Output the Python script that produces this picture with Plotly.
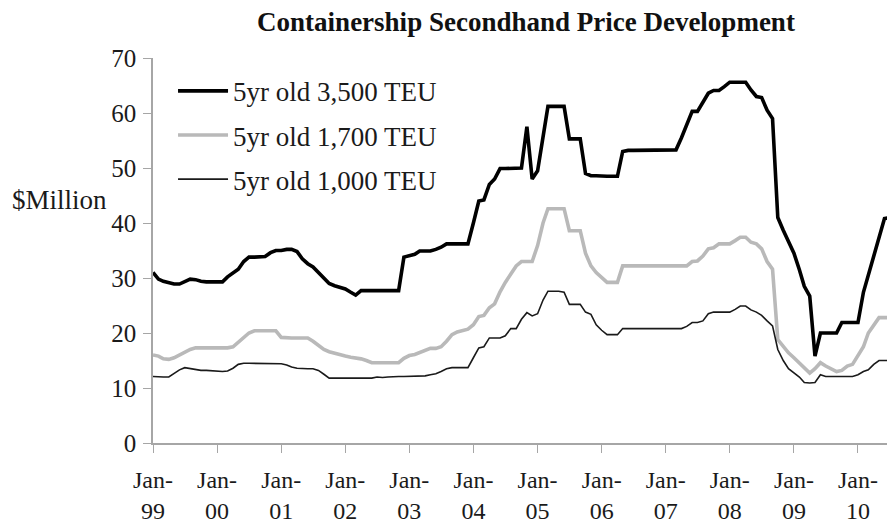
import plotly.graph_objects as go
import pandas as pd

# Monthly observations, Jan 1999 .. Aug 2010
months = pd.date_range("1999-01-01", "2010-08-01", freq="MS")

teu_3500 = [
    31.0, 29.8, 29.4, 29.2, 28.9, 28.9, 29.4, 29.8, 29.7, 29.4, 29.3, 29.3,   # 1999
    29.3, 29.3, 30.2, 31.0, 31.6, 33.0, 33.8, 33.8, 33.8, 33.9, 34.6, 35.0,   # 2000
    35.0, 35.2, 35.2, 34.8, 33.5, 32.6, 32.0, 31.0, 30.0, 29.0, 28.6, 28.3,   # 2001
    28.0, 27.4, 26.9, 27.7, 27.7, 27.7, 27.7, 27.7, 27.7, 27.7, 27.7, 33.8,   # 2002
    34.0, 34.3, 34.9, 34.9, 34.9, 35.2, 35.6, 36.2, 36.2, 36.2, 36.2, 36.2,   # 2003
    40.0, 44.0, 44.2, 47.0, 48.0, 49.9, 49.9, 49.9, 49.9, 50.0, 57.5, 48.0,   # 2004
    49.5, 55.5, 61.2, 61.2, 61.2, 61.2, 55.3, 55.3, 55.3, 49.0, 48.6, 48.6,   # 2005
    48.5, 48.5, 48.5, 48.5, 53.0, 53.2, 53.2, 53.2, 53.2, 53.2, 53.2, 53.2,   # 2006
    53.2, 53.2, 53.3, 55.5, 57.8, 60.3, 60.3, 62.0, 63.6, 64.1, 64.1, 64.8,   # 2007
    65.6, 65.6, 65.6, 65.6, 64.2, 63.0, 62.8, 60.5, 59.0, 41.0, 38.7, 36.6,   # 2008
    34.5, 31.5, 28.5, 26.7, 15.8, 20.0, 20.0, 20.0, 20.0, 21.9, 21.9, 21.9,   # 2009
    21.9, 27.4, 30.5, 33.5, 37.0, 40.8, 41.0, 41.0,                           # 2010
]

teu_1700 = [
    16.0, 15.8, 15.3, 15.2, 15.5, 16.0, 16.5, 17.0, 17.3, 17.3, 17.3, 17.3,
    17.3, 17.3, 17.3, 17.5, 18.3, 19.2, 20.0, 20.4, 20.4, 20.4, 20.4, 20.4,
    19.2, 19.1, 19.1, 19.1, 19.1, 19.1, 18.5, 17.8, 17.0, 16.6, 16.3, 16.0,
    15.8, 15.6, 15.5, 15.3, 15.0, 14.6, 14.6, 14.6, 14.6, 14.6, 14.6, 15.4,
    15.9, 16.1, 16.5, 16.8, 17.2, 17.2, 17.5, 18.5, 19.7, 20.2, 20.5, 20.7,
    21.5, 23.0, 23.2, 24.6, 25.3, 27.5, 29.2, 30.8, 32.2, 33.0, 33.0, 33.0,
    35.9, 40.0, 42.6, 42.6, 42.6, 42.6, 38.6, 38.6, 38.6, 34.5, 32.2, 31.0,
    30.0, 29.2, 29.2, 29.2, 32.2, 32.2, 32.2, 32.2, 32.2, 32.2, 32.2, 32.2,
    32.2, 32.2, 32.2, 32.2, 32.2, 33.0, 33.1, 34.0, 35.3, 35.5, 36.2, 36.2,
    36.2, 36.8, 37.4, 37.4, 36.5, 36.2, 35.3, 33.0, 31.6, 18.8, 17.5, 16.4,
    15.5, 14.6, 13.8, 12.7, 13.5, 14.6, 14.0, 13.5, 13.0, 13.2, 14.0, 14.3,
    16.0, 17.5, 20.0, 21.5, 22.8, 22.8, 22.8, 22.8,
]

teu_1000 = [
    12.1, 12.0, 12.0, 12.0, 12.6, 13.3, 13.7, 13.5, 13.3, 13.2, 13.2, 13.1,
    13.0, 13.0, 13.1, 13.6, 14.3, 14.5, 14.5, 14.5, 14.5, 14.5, 14.5, 14.4,
    14.4, 14.2, 13.8, 13.6, 13.5, 13.5, 13.5, 13.2, 12.5, 11.8, 11.8, 11.8,
    11.8, 11.8, 11.8, 11.8, 11.8, 11.8, 12.0, 11.9, 12.0, 12.1, 12.1, 12.1,
    12.1, 12.1, 12.1, 12.2, 12.4, 12.6, 13.0, 13.5, 13.7, 13.7, 13.7, 13.7,
    15.5, 17.3, 17.5, 19.1, 19.1, 19.1, 19.5, 20.8, 20.8, 22.5, 23.7, 23.1,
    23.5, 26.0, 27.6, 27.6, 27.6, 27.4, 25.2, 25.2, 25.2, 23.8, 23.4, 21.5,
    20.5, 19.7, 19.7, 19.7, 20.8, 20.8, 20.8, 20.8, 20.8, 20.8, 20.8, 20.8,
    20.8, 20.8, 20.8, 20.8, 21.2, 21.9, 21.9, 22.2, 23.5, 23.8, 23.8, 23.8,
    23.8, 24.3, 24.9, 24.9, 24.2, 23.8, 23.2, 22.2, 21.3, 17.0, 15.0, 13.5,
    12.8, 12.0, 11.0, 10.9, 11.0, 12.4, 12.1, 12.1, 12.1, 12.1, 12.1, 12.1,
    12.4, 13.0, 13.3, 14.3, 15.0, 15.0, 15.0, 15.0,
]

series_names = ["5yr old 3,500 TEU", "5yr old 1,700 TEU", "5yr old 1,000 TEU"]
tick_years = ["99", "00", "01", "02", "03", "04", "05", "06", "07", "08", "09", "10"]
tick_dates = [f"{1999 + i}-01-01" for i in range(len(tick_years))]
tick_text = [f"Jan-<br>{y}" for y in tick_years]
y_ticks = [0, 10, 20, 30, 40, 50, 60, 70]

SERIF = "Liberation Serif, Times New Roman, serif"
AXIS_GRAY = "#a6a6a6"

fig = go.Figure()
styles = [
    dict(color="#000000", width=3.6),
    dict(color="#b9b9b9", width=3.6),
    dict(color="#1a1a1a", width=1.6),
]
for i, (name, vals) in enumerate(zip(series_names, [teu_3500, teu_1700, teu_1000])):
    fig.add_trace(go.Scatter(
        x=months, y=vals, mode="lines", name=name,
        line=styles[i], legendgroup=f"g{i}", hoverinfo="skip",
    ))

# the page body adds an 8px offset; margins compensate for it
fig.update_layout(
    width=895, height=527,
    margin=dict(l=145, r=8, t=50, b=92, autoexpand=False),
    paper_bgcolor="white", plot_bgcolor="white",
    font=dict(family=SERIF, size=25, color="#1a1a1a"),
    title=dict(
        text="<b>Containership Secondhand Price Development</b>",
        x=518 / 895, xref="container", xanchor="center",
        y=1 - 14 / 527, yref="container", yanchor="middle",
        font=dict(family=SERIF, size=27, color="#111111"),
    ),
    showlegend=True,
    legend=dict(
        x=0.027, y=0.977, xanchor="left", yanchor="top",
        bgcolor="rgba(0,0,0,0)", borderwidth=0,
        font=dict(family=SERIF, size=27, color="#1a1a1a"),
        tracegroupgap=6, itemwidth=50, traceorder="grouped",
    ),
    xaxis=dict(
        type="date", automargin=False,
        range=["1999-01-01", "2010-07-31"],
        tickmode="array", tickvals=tick_dates, ticktext=tick_text,
        ticks="outside", ticklen=8, tickcolor=AXIS_GRAY, tickwidth=1,
        showline=True, linecolor=AXIS_GRAY, linewidth=1.5,
        showgrid=False, zeroline=False,
        tickfont=dict(family=SERIF, size=24, color="#1a1a1a"),
        ticklabelstandoff=6,
    ),
    yaxis=dict(
        range=[0, 70], tickmode="array", tickvals=y_ticks, automargin=False,
        ticks="outside", ticklen=8, tickcolor=AXIS_GRAY, tickwidth=1,
        showline=True, linecolor=AXIS_GRAY, linewidth=1.5,
        showgrid=False, zeroline=False,
        tickfont=dict(family=SERIF, size=25, color="#1a1a1a"),
        ticklabelstandoff=2,
    ),
    annotations=[dict(
        text="$Million", xref="paper", yref="paper",
        x=(10 - 153) / 742, y=(443 - 200) / 385,
        xanchor="left", yanchor="middle", showarrow=False,
        font=dict(family=SERIF, size=27, color="#1a1a1a"),
    )],
)

fig.write_html("out.html")
